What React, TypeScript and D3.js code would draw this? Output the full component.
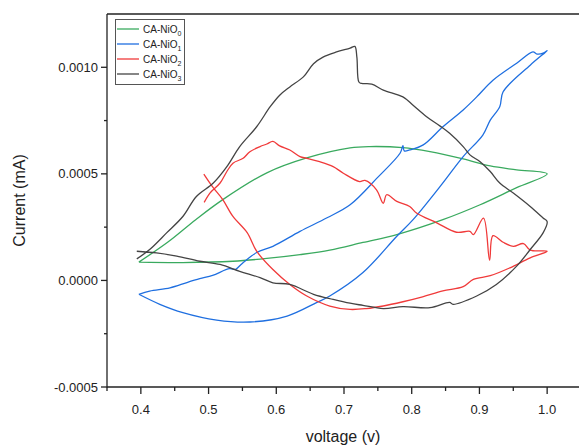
import React from 'react';
import * as d3 from 'd3';

// CV loops: [voltage (V), current (mA)]
const nio0: [number, number][] = [
  [0.397, 0.000086], [0.44, 0.00018], [0.481, 0.000285], [0.521, 0.000379], [0.586, 0.000505],
  [0.645, 0.000575], [0.709, 0.000622], [0.738, 0.000628], [0.787, 0.000623], [0.827, 0.000604],
  [0.876, 0.00057], [0.916, 0.000537], [0.955, 0.000519], [1.0, 0.0005],
  [0.955, 0.000435], [0.901, 0.000355], [0.846, 0.000285], [0.778, 0.000215], [0.728, 0.000178],
  [0.679, 0.000142], [0.635, 0.000121], [0.586, 0.000103], [0.536, 0.00009], [0.462, 0.000084],
  [0.397, 0.000086],
];

const nio1: [number, number][] = [
  [0.397, -0.000065], [0.413, -0.00005], [0.443, -0.000035], [0.468, -0.00001], [0.487, 0.000008],
  [0.506, 0.000024], [0.531, 0.000055], [0.54, 0.000052], [0.548, 0.000075], [0.571, 0.000131],
  [0.595, 0.00016], [0.635, 0.00023], [0.675, 0.000294], [0.709, 0.000355], [0.749, 0.000481],
  [0.783, 0.000598], [0.787, 0.000632], [0.789, 0.000608], [0.797, 0.000612], [0.817, 0.000636],
  [0.846, 0.000721], [0.876, 0.0008], [0.896, 0.000861], [0.92, 0.000939], [0.955, 0.001019],
  [0.979, 0.001072], [0.985, 0.001062], [0.994, 0.001066], [1.0, 0.001078],
  [0.975, 0.00101], [0.935, 0.000885], [0.93, 0.000815], [0.916, 0.000752], [0.905, 0.000682],
  [0.876, 0.000581], [0.842, 0.000441], [0.802, 0.000285], [0.778, 0.000207], [0.728, 0.000037],
  [0.679, -0.000073], [0.66, -0.000103], [0.616, -0.000167], [0.561, -0.000195], [0.512, -0.000186],
  [0.462, -0.000151], [0.428, -0.000112], [0.397, -0.000065],
];

const nio2: [number, number][] = [
  [0.4935, 0.000366], [0.502, 0.00041], [0.517, 0.000457], [0.527, 0.000511], [0.536, 0.00055],
  [0.551, 0.000573], [0.561, 0.000604], [0.576, 0.000628], [0.586, 0.00064], [0.595, 0.000652],
  [0.605, 0.000631], [0.62, 0.000612], [0.635, 0.000581], [0.645, 0.000573], [0.664, 0.000557],
  [0.684, 0.000534], [0.699, 0.000503], [0.723, 0.000464], [0.731, 0.000469], [0.748, 0.000425],
  [0.758, 0.000362], [0.763, 0.000402], [0.778, 0.000371], [0.797, 0.000347], [0.807, 0.000316],
  [0.837, 0.00027], [0.866, 0.000226], [0.886, 0.00023], [0.891, 0.000215], [0.906, 0.000292],
  [0.915, 0.000095], [0.92, 0.00021], [0.935, 0.000179], [0.95, 0.00016], [0.965, 0.000173],
  [0.975, 0.000142], [1.0, 0.000137],
  [0.975, 0.000106], [0.945, 0.000059], [0.916, 0.000022], [0.891, 0.000005], [0.876, -0.000029],
  [0.846, -0.000049], [0.816, -0.000077], [0.787, -0.0001], [0.758, -0.00012], [0.733, -0.000132],
  [0.709, -0.000136], [0.679, -0.00012], [0.645, -0.000073], [0.62, -0.000019], [0.595, 0.000051],
  [0.571, 0.000137], [0.557, 0.000224], [0.536, 0.0003], [0.521, 0.000379], [0.506, 0.000439],
  [0.493, 0.000499],
];

const nio3: [number, number][] = [
  [0.394, 0.000101], [0.413, 0.000145], [0.438, 0.000223], [0.462, 0.0003], [0.482, 0.000394],
  [0.507, 0.000457], [0.527, 0.000534], [0.546, 0.000628], [0.571, 0.000721], [0.591, 0.000815],
  [0.605, 0.000869], [0.62, 0.000908], [0.64, 0.000955], [0.655, 0.001017], [0.669, 0.001048],
  [0.689, 0.001072], [0.709, 0.00109], [0.716, 0.001098], [0.719, 0.001048], [0.722, 0.000931],
  [0.726, 0.000924], [0.741, 0.000921], [0.758, 0.000893], [0.787, 0.000861], [0.802, 0.000822],
  [0.822, 0.000768], [0.842, 0.000724], [0.856, 0.00069], [0.876, 0.000628], [0.886, 0.000589],
  [0.901, 0.000557], [0.916, 0.000511], [0.93, 0.000457], [0.95, 0.00041], [0.975, 0.000347],
  [0.994, 0.000293], [1.0, 0.000276],
  [0.994, 0.000223], [0.975, 0.000145], [0.955, 0.000067], [0.925, -0.000019], [0.896, -0.000073],
  [0.861, -0.000112], [0.856, -0.000103], [0.827, -0.000128], [0.787, -0.000123], [0.758, -0.000132],
  [0.728, -0.000117], [0.709, -0.000107], [0.684, -0.000089], [0.655, -0.000065], [0.62, -0.000019],
  [0.595, -0.000011], [0.576, 0.000013], [0.546, 0.000043], [0.517, 0.000075], [0.487, 0.00009],
  [0.453, 0.000114], [0.423, 0.000129], [0.394, 0.000137],
];

const seriesNames = ['0', '1', '2', '3'];
const seriesColors = ['#3aaa5f', '#1f6fe0', '#f03a3a', '#444444'];
const seriesData = [nio0, nio1, nio2, nio3];

const xMajor = [0.4, 0.5, 0.6, 0.7, 0.8, 0.9, 1.0];
const xMinor = [0.35, 0.45, 0.55, 0.65, 0.75, 0.85, 0.95, 1.05];
const yMajor = [-0.0005, 0, 0.0005, 0.001];
const yMinor = [-0.00025, 0.00025, 0.00075];

const font = 'Liberation Sans, Arial, sans-serif';
// plain hyphen for negatives, like the original
const fmtY = (v: number) => d3.format('.4f')(v).replace('\u2212', '-');

export default function App() {
  const x = d3.scaleLinear().domain([0.35, 1.05]).range([107, 581]);
  const y = d3.scaleLinear().domain([-0.0005, 0.00125]).range([387, 14]);
  const line = d3
    .line<[number, number]>()
    .x((d) => x(d[0]))
    .y((d) => y(d[1]))
    .curve(d3.curveCatmullRom.alpha(0.5));
  const left = x(0.35);
  const bottom = y(-0.0005);
  const top = y(0.00125);

  return (
    <svg width={579} height={446} style={{ position: 'absolute', left: 0, top: 0 }} fontFamily={font}>
      <rect width={579} height={446} fill="#fff" />
      <g fill="none" strokeWidth={1.3} strokeLinejoin="round">
        {seriesData.map((d, i) => (
          <path key={i} d={line(d) || ''} stroke={seriesColors[i]} />
        ))}
      </g>

      {/* axes */}
      <g stroke="#222" strokeWidth={1.3}>
        <line x1={left} x2={left} y1={top} y2={bottom + 0.6} />
        <line x1={left} x2={581} y1={bottom} y2={bottom} />
        <line x1={left} x2={581} y1={top} y2={top} />
        {yMajor.map((v) => (
          <line key={v} x1={left - 6} x2={left} y1={y(v)} y2={y(v)} />
        ))}
        {yMinor.map((v) => (
          <line key={v} x1={left - 3} x2={left} y1={y(v)} y2={y(v)} />
        ))}
        {xMajor.map((v) => (
          <line key={v} x1={x(v)} x2={x(v)} y1={bottom} y2={bottom + 7} />
        ))}
        {xMinor.map((v) => (
          <line key={v} x1={x(v)} x2={x(v)} y1={bottom} y2={bottom + 4} />
        ))}
      </g>

      <g fontSize={13} fill="#222">
        {yMajor.map((v) => (
          <text key={v} x={left - 9} y={y(v)} dy="0.35em" textAnchor="end">
            {fmtY(v)}
          </text>
        ))}
        {xMajor.map((v) => (
          <text key={v} x={x(v)} y={bottom + 22} dy="0.35em" textAnchor="middle">
            {d3.format('.1f')(v)}
          </text>
        ))}
      </g>

      <text x={343} y={442} fontSize={16} textAnchor="middle" fill="#222">voltage (v)</text>
      <text transform={`translate(25, ${(top + bottom) / 2}) rotate(-90)`} fontSize={16} textAnchor="middle" fill="#222">
        Current (mA)
      </text>

      {/* legend */}
      <g>
        <rect x={115.5} y={19.5} width={69} height={65} fill="#fff" stroke="#555" strokeWidth={1} />
        {seriesNames.map((n, i) => {
          const ly = 29 + i * 15;
          return (
            <g key={n}>
              <line x1={117} x2={139} y1={ly} y2={ly} stroke={seriesColors[i]} strokeWidth={1.3} />
              <text x={143} y={ly} dy="0.35em" fontSize={10} fill="#222">
                CA-NiO
                <tspan fontSize={7} dy="3">{n}</tspan>
              </text>
            </g>
          );
        })}
      </g>
    </svg>
  );
}
